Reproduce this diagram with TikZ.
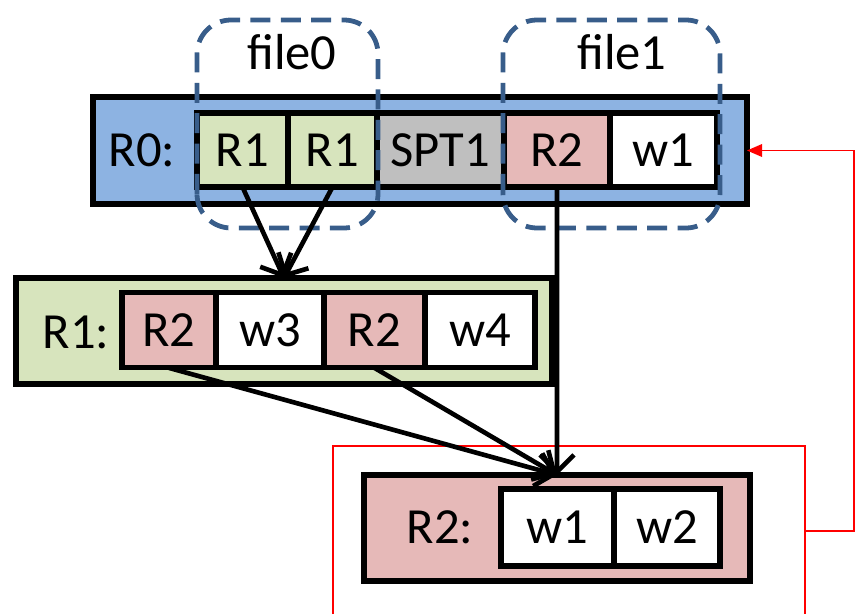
\documentclass[tikz,border=0pt]{standalone}
\usepackage{fontspec}
\setmainfont{Carlito}
\usetikzlibrary{arrows.meta}
\definecolor{RZBlue}{HTML}{8DB3E2}
\definecolor{ROGreen}{HTML}{D7E4BD}
\definecolor{RTPink}{HTML}{E6B9B8}
\definecolor{SPGray}{HTML}{BFBFBF}
\definecolor{FileEdge}{HTML}{385D8A}

\begin{document}
\begin{tikzpicture}[x=1cm,y=1cm,
  font=\fontsize{36}{42}\selectfont,
  frame/.style={draw,line width=3.6pt,inner sep=0pt,outer sep=0pt,anchor=south west,minimum height=2.65cm},
  cell/.style={draw,line width=3.6pt,inner sep=0pt,outer sep=0pt,anchor=west,fill=white},
  filebox/.style={draw=FileEdge,line width=3.4pt,dash pattern=on 0.5cm off 0.26cm,rounded corners=0.85cm},
  link/.style={line width=3.3pt,-{Straight Barb[length=0.42cm,width=0.85cm]}}]
\useasboundingbox (0,0) rectangle (21.40,15.35);
% redirect frame
\draw[red,line width=1.5pt] (8.325,0) |- (20.125,4.20) -- (20.125,0);
\coordinate (back) at (20.125,2.075);
% R0
\node[frame,fill=RZBlue,minimum width=16.35cm,minimum height=2.675cm] (R0) at (2.325,10.25) {};
\node (r0lab) at (3.55,11.60) {R0:};
\node[cell,fill=ROGreen,minimum width=2.275cm,minimum height=1.85cm] (r0a) at (4.925,11.60) {R1};
\node[cell,fill=ROGreen,minimum width=2.225cm,minimum height=1.85cm] (r0b) at (7.200,11.60) {R1};
\node[cell,fill=SPGray,minimum width=3.175cm,minimum height=1.85cm] (r0c) at (9.425,11.60) {SPT1};
\node[cell,fill=RTPink,minimum width=2.650cm,minimum height=1.85cm] (r0d) at (12.600,11.60) {R2};
\node[cell,minimum width=2.675cm,minimum height=1.85cm] (r0e) at (15.250,11.60) {w1};
% files
\draw[filebox] (4.925,9.65) rectangle (9.45,14.85);
\draw[filebox] (12.575,9.65) rectangle (18.00,14.85);
\node (f0lab) at (7.30,14.05) {file0};
\node (f1lab) at (15.55,14.05) {file1};
% R1
\node[frame,fill=ROGreen,minimum width=13.40cm] (R1) at (0.40,5.75) {};
\node (r1lab) at (1.90,7.05) {R1:};
\node[cell,fill=RTPink,minimum width=2.350cm,minimum height=1.875cm] (r1a) at (3.050,7.09) {R2};
\node[cell,minimum width=2.700cm,minimum height=1.875cm] (r1b) at (5.400,7.09) {w3};
\node[cell,fill=RTPink,minimum width=2.525cm,minimum height=1.875cm] (r1c) at (8.100,7.09) {R2};
\node[cell,minimum width=2.750cm,minimum height=1.875cm] (r1d) at (10.625,7.09) {w4};
% R2
\node[frame,fill=RTPink,minimum width=9.65cm] (R2) at (9.10,0.825) {};
\node (r2lab) at (11.00,2.175) {R2:};
\node[cell,minimum width=2.825cm,minimum height=1.925cm] (r2a) at (12.525,2.1625) {w1};
\node[cell,minimum width=2.650cm,minimum height=1.925cm] (r2b) at (15.350,2.1625) {w2};
% links
\draw[link] (r0a.south) -- (R1.north);
\draw[link] (r0b.south) -- (R1.north);
\draw[link] (r0d.south) -- (R2.north);
\draw[link] (r1a.south) -- (R2.north);
\draw[link] (r1c.south) -- (R2.north);
\draw[red,line width=1pt,-{Triangle[length=0.38cm,width=0.32cm]}] (back) -- ++(1.225,0) |- (R0.east);
\end{tikzpicture}
\end{document}
